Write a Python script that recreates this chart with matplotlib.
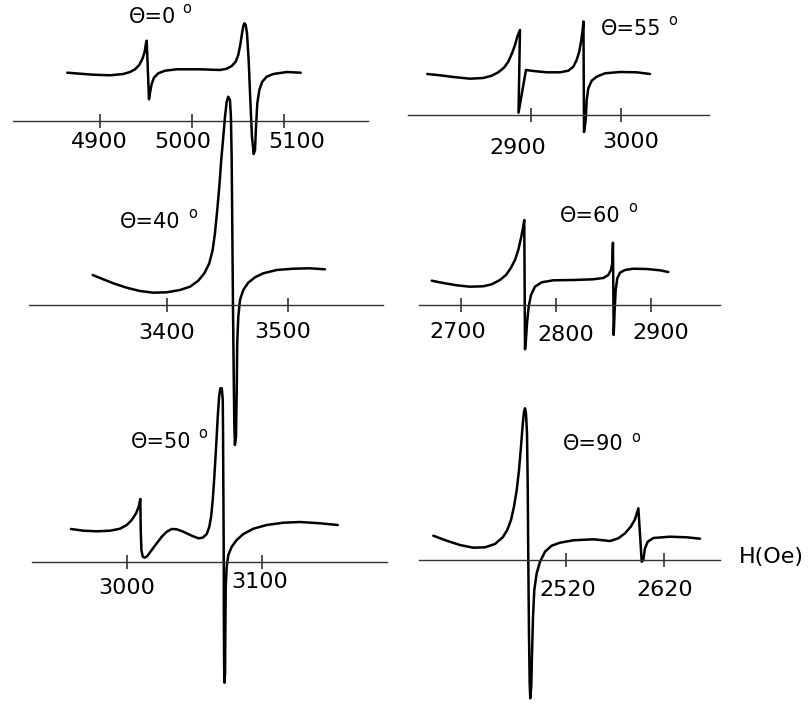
import matplotlib.pyplot as plt

# FMR derivative spectra dP/dH versus applied field H (Oe) for six field angles.
# Signal is in arbitrary units, zero on each field axis.
angles = [0, 40, 50, 55, 60, 90]

field_0 = [4864.7, 4878.5, 4892.9, 4911.1, 4925.5, 4932.8, 4938.3, 4942.9, 4946.6,
           4948.8, 4950.2, 4951.0, 4953.5, 4954.6, 4956.4, 4958.9, 4963.6, 4970.9,
           4983.6, 5008.9, 5030.7, 5037.9, 5043.4, 5047.7, 5050.5, 5052.7, 5054.6,
           5056.0, 5057.1, 5058.6, 5060.0, 5061.8, 5063.6, 5065.4, 5067.3, 5068.7,
           5069.8, 5071.2, 5073.4, 5076.6, 5081.4, 5088.6, 5103.2, 5118.4]
signal_0 = [4.83, 4.73, 4.63, 4.57, 4.70, 4.90, 5.17, 5.60, 6.27,
            6.93, 7.77, 8.03, 2.17, 2.83, 3.70, 4.33, 4.77, 5.03,
            5.17, 5.17, 5.10, 5.23, 5.50, 5.93, 6.60, 7.60, 8.77,
            9.50, 9.77, 9.60, 8.77, 6.10, 2.10, -1.57, -3.30, -2.90,
            -0.57, 1.77, 3.10, 3.93, 4.43, 4.70, 4.90, 4.83]
ticks_0 = [4900, 5000, 5100]

field_40 = [3338.8, 3347.6, 3355.9, 3366.9, 3377.9, 3388.9, 3400.0, 3411.0, 3419.3,
            3426.1, 3431.1, 3435.2, 3438.0, 3439.9, 3441.8, 3443.5, 3445.1, 3446.8,
            3448.2, 3449.6, 3450.9, 3452.3, 3453.1, 3453.7, 3454.2, 3454.8, 3455.4,
            3455.9, 3456.4, 3457.3, 3457.9, 3458.3, 3459.2, 3460.6, 3463.3, 3467.4,
            3473.0, 3479.8, 3490.9, 3504.6, 3518.4, 3530.8]
signal_40 = [3.0, 2.57, 2.17, 1.73, 1.40, 1.23, 1.27, 1.50, 1.83,
             2.43, 3.17, 4.17, 5.50, 7.17, 9.50, 11.83, 14.50, 16.83,
             18.83, 20.33, 20.83, 20.50, 18.83, 14.83, 8.17, -0.17, -6.83,
             -11.83, -14.0, -13.17, -8.5, -3.83, -1.17, 0.50, 1.50, 2.23,
             2.77, 3.17, 3.50, 3.63, 3.67, 3.57]
ticks_40 = [3400, 3500]

field_50 = [2958.9, 2968.0, 2977.9, 2987.7, 2995.1, 3000.0, 3003.7, 3006.9, 3008.8,
            3010.0, 3010.3, 3010.8, 3011.8, 3013.3, 3015.2, 3018.4, 3022.1, 3025.8,
            3029.5, 3033.2, 3036.9, 3041.7, 3047.9, 3052.8, 3056.0, 3059.0, 3060.9,
            3062.2, 3063.4, 3064.6, 3065.9, 3067.1, 3068.1, 3069.0, 3070.1, 3070.8,
            3071.0, 3071.2, 3071.5, 3071.6, 3071.8, 3072.0, 3072.5, 3072.7, 3073.0,
            3073.7, 3074.9, 3077.4, 3081.1, 3086.0, 3093.4, 3103.2, 3115.5, 3127.8,
            3142.6, 3155.6]
signal_50 = [3.30, 3.13, 3.07, 3.13, 3.33, 3.70, 4.20, 4.87, 5.53,
             6.30, 3.20, 1.20, 0.53, 0.43, 0.60, 1.20, 1.87, 2.53,
             3.03, 3.30, 3.27, 3.03, 2.63, 2.37, 2.43, 2.80, 3.53,
             4.53, 6.20, 8.53, 11.53, 14.53, 16.53, 17.37, 17.37, 16.20,
             13.20, 8.20, 1.53, -5.13, -10.13, -12.07, -11.13, -7.13, -2.47,
             -0.47, 0.70, 1.53, 2.20, 2.80, 3.33, 3.70, 3.93, 4.00,
             3.87, 3.70]
ticks_50 = [3000, 3100]

field_55 = [2784.4, 2798.6, 2813.4, 2832.0, 2846.8, 2856.2, 2863.5, 2869.9, 2874.7,
            2878.8, 2882.2, 2884.7, 2887.7, 2886.1, 2894.4, 2902.6, 2917.5, 2932.3,
            2941.6, 2947.2, 2950.9, 2953.8, 2956.1, 2957.6, 2958.5, 2959.1, 2961.0,
            2962.1, 2963.9, 2967.7, 2973.2, 2982.5, 2999.2, 3017.8, 3032.7]
signal_55 = [4.10, 3.97, 3.80, 3.63, 3.70, 3.93, 4.27, 4.73, 5.33,
             6.17, 7.00, 7.83, 8.50, 0.23, 4.50, 4.40, 4.27, 4.27,
             4.43, 4.83, 5.50, 6.33, 7.50, 8.50, 9.35, -1.70, -0.50,
             1.50, 2.67, 3.43, 3.83, 4.17, 4.30, 4.27, 4.10]
ticks_55 = [2900, 3000]

field_60 = [2668.8, 2681.0, 2695.2, 2709.2, 2723.3, 2732.2, 2740.9, 2747.3, 2752.2,
            2756.8, 2760.3, 2763.1, 2765.2, 2766.6, 2767.4, 2768.4, 2769.5, 2771.3,
            2773.7, 2777.9, 2785.0, 2797.3, 2818.4, 2839.5, 2850.1, 2855.4, 2858.2,
            2859.6, 2860.3, 2861.1, 2862.1, 2863.2, 2864.9, 2867.7, 2873.0, 2881.8,
            2895.9, 2910.0, 2918.8]
signal_60 = [2.43, 2.20, 1.97, 1.83, 1.87, 2.07, 2.50, 3.00, 3.67,
             4.50, 5.50, 6.67, 7.67, 8.50, -4.43, -3.50, -1.83, -0.17,
             1.00, 1.83, 2.27, 2.47, 2.50, 2.57, 2.70, 3.00, 3.50,
             4.17, 6.23, -3.00, -0.50, 1.50, 2.67, 3.23, 3.50, 3.63,
             3.60, 3.47, 3.30]
ticks_60 = [2700, 2800, 2900]

field_90 = [2385.9, 2399.4, 2412.9, 2426.4, 2438.2, 2448.4, 2456.2, 2460.8, 2464.6,
            2467.6, 2470.4, 2472.7, 2474.7, 2476.4, 2477.8, 2478.8, 2479.8, 2480.8,
            2481.5, 2482.1, 2482.8, 2483.5, 2484.1, 2485.1, 2485.9, 2486.9, 2488.2,
            2490.6, 2494.0, 2499.0, 2505.8, 2514.2, 2527.7, 2548.0, 2564.9, 2573.3,
            2580.1, 2585.9, 2590.2, 2593.6, 2597.0, 2598.6, 2600.3, 2603.1, 2608.8,
            2625.7, 2642.6, 2656.1]
signal_90 = [2.43, 1.93, 1.50, 1.23, 1.27, 1.60, 2.27, 3.00, 4.00,
             5.33, 7.00, 9.00, 11.33, 13.50, 14.83, 15.17, 14.67, 12.67,
             7.67, 0.00, -7.33, -12.33, -13.83, -12.67, -9.33, -5.67, -3.00,
             -1.33, -0.17, 0.83, 1.43, 1.73, 1.97, 2.07, 1.90, 2.17,
             2.67, 3.33, 4.07, 5.17, -0.17, 0.00, 1.17, 1.83, 2.20,
             2.33, 2.27, 2.13]
ticks_90 = [2520, 2620]

# panel placement in pixels: axis left/right ends and height, field range along
# the axis line, tick-label shifts (dx) and drop below the axis (gap),
# anchors of the angle label and its degree mark
W, H = 811, 705
panels = [
    dict(field=field_0, signal=signal_0, ticks=ticks_0, x0=13, x1=368, y=121,
         hlim=(4805.7, 5191.5), dx=[-0.5, -9, 12.7], gap=[11, 11, 11],
         label=(152.5, 23), deg=(187, 13.3)),
    dict(field=field_40, signal=signal_40, ticks=ticks_40, x0=29, x1=383, y=305,
         hlim=(3286.2, 3578.8), dx=[0, -5], gap=[18.3, 16.7],
         label=(150, 228.3), deg=(192.5, 218.3)),
    dict(field=field_50, signal=signal_50, ticks=ticks_50, x0=31.7, x1=386.7, y=562,
         hlim=(2929.9, 3191.7), dx=[0, -3], gap=[16.3, 9.7],
         label=(160.8, 448.3), deg=(202.5, 438.3)),
    dict(field=field_55, signal=signal_55, ticks=ticks_55, x0=408.3, x1=709.3, y=115,
         hlim=(2763.2, 3098.8), dx=[-13.5, 10], gap=[23.3, 16.7],
         label=(630.8, 35), deg=(672.5, 25)),
    dict(field=field_60, signal=signal_60, ticks=ticks_60, x0=419, x1=720, y=305,
         hlim=(2655.4, 2973.4), dx=[-3, 9.4, 10.7], gap=[16.7, 20, 18.3],
         label=(590, 221.7), deg=(632.5, 211.7)),
    dict(field=field_90, signal=signal_90, ticks=ticks_90, x0=419, x1=720, y=560,
         hlim=(2371.4, 2676.3), dx=[2, 0], gap=[20, 20],
         label=(593.3, 450), deg=(635.8, 441.7)),
]

fig = plt.figure(figsize=(W / 100, H / 100), dpi=100)
fig.patch.set_facecolor('white')

for angle, p in zip(angles, panels):
    # 1 signal unit = 10 px, axes 200 px tall centred on the field axis
    ax = fig.add_axes([p['x0'] / W, (H - p['y'] - 100) / H,
                       (p['x1'] - p['x0']) / W, 200 / H])
    ax.patch.set_visible(False)
    ax.set_xlim(*p['hlim'])
    ax.set_ylim(-10, 10)
    for side in ['left', 'right', 'top']:
        ax.spines[side].set_visible(False)
    ax.spines['bottom'].set_position(('data', 0))
    ax.spines['bottom'].set_color('#333333')
    ax.spines['bottom'].set_linewidth(1.0)
    ax.set_yticks([])
    ax.set_xticks(p['ticks'])
    ax.tick_params(axis='x', direction='inout', length=9.5, width=1.1,
                   color='#222222', labelbottom=False)

    # tick labels written by hand so each can sit where it was lettered
    for t, dx, gap in zip(p['ticks'], p['dx'], p['gap']):
        ax.annotate(str(t), xy=(t, 0), xycoords='data', xytext=(dx, -gap),
                    textcoords='offset pixels', ha='center', va='top',
                    fontsize=16, annotation_clip=False)

    ax.plot(p['field'], p['signal'], color='black', lw=1.8, clip_on=False,
            solid_joinstyle='round', solid_capstyle='round')

    lx, ly = p['label']
    fig.text(lx / W, 1 - ly / H, '\u0398=%d' % angle, ha='center',
             va='baseline', fontsize=15)
    dx, dy = p['deg']
    fig.text(dx / W, 1 - dy / H, 'o', ha='center', va='baseline', fontsize=10.5)

fig.text(739 / W, 1 - 563 / H, 'H(Oe)', ha='left', va='baseline', fontsize=16)

fig.savefig('out.png', dpi=100)
